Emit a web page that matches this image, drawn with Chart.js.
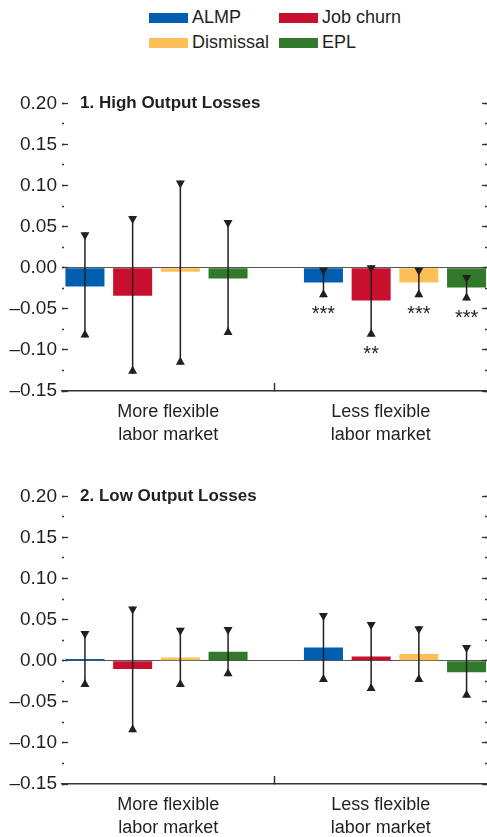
<!DOCTYPE html>
<html>
<head>
<meta charset="utf-8">
<script src="https://cdn.jsdelivr.net/npm/chart.js@4.4.1/dist/chart.umd.min.js"></script>
<style>
  html, body { margin: 0; padding: 0; background: #fff; width: 487px; height: 837px; overflow: hidden; }
  body { font-family: 'Liberation Sans', Arial, sans-serif; color: #231f20; position: relative; }
  .legend { position: absolute; left: 149px; top: 5px; display: grid; grid-template-columns: 130px auto; }
  .item { display: flex; align-items: center; height: 25px; font-size: 18px; line-height: 25px; white-space: nowrap; }
  .sw { width: 39px; height: 10px; margin-right: 4px; flex: none; }
  .panel { position: absolute; left: 0; width: 487px; height: 370px; }
</style>
</head>
<body>
<div class="legend" id="legend"></div>
<div class="panel" style="top:80px"><canvas id="c1" width="487" height="370"></canvas></div>
<div class="panel" style="top:473px"><canvas id="c2" width="487" height="370"></canvas></div>
<script>
// ---------- DATA ----------
const categories = [['More flexible', 'labor market'], ['Less flexible', 'labor market']];
const seriesNames = ['ALMP', 'Job churn', 'Dismissal', 'EPL'];
const seriesColors = ['#005EB0', '#C8102E', '#FDBF58', '#33792C'];
const yTickMin = -0.15, yTickMax = 0.20, yTickStep = 0.05, yMinorStep = 0.025;

const panel1Title = '1. High Output Losses';
const p1ALMP      = [-0.023, -0.018];
const p1JobChurn  = [-0.034, -0.040];
const p1Dismissal = [-0.005, -0.018];
const p1EPL       = [-0.013, -0.024];
const p1ALMPHi      = [0.043, 0.000],  p1ALMPLo      = [-0.085, -0.036];
const p1JobChurnHi  = [0.063, 0.003],  p1JobChurnLo  = [-0.129, -0.084];
const p1DismissalHi = [0.106, 0.000],  p1DismissalLo = [-0.118, -0.036];
const p1EPLHi       = [0.058, -0.009], p1EPLLo       = [-0.082, -0.040];
const p1ALMPStars = ['', '***'], p1JobChurnStars = ['', '**'], p1DismissalStars = ['', '***'], p1EPLStars = ['', '***'];

const panel2Title = '2. Low Output Losses';
const p2ALMP      = [0.002, 0.016];
const p2JobChurn  = [-0.010, 0.005];
const p2Dismissal = [0.004, 0.008];
const p2EPL       = [0.011, -0.014];
const p2ALMPHi      = [0.036, 0.058], p2ALMPLo      = [-0.032, -0.026];
const p2JobChurnHi  = [0.066, 0.047], p2JobChurnLo  = [-0.087, -0.037];
const p2DismissalHi = [0.040, 0.042], p2DismissalLo = [-0.032, -0.026];
const p2EPLHi       = [0.041, 0.019], p2EPLLo       = [-0.019, -0.045];
const p2Stars = ['', ''];

// ---------- STYLE ----------
const FONT = "'Liberation Sans', Arial, sans-serif";
const INK = '#231f20';
Chart.defaults.font.family = FONT;
Chart.defaults.color = INK;

// legend (HTML, real text)
const lg = document.getElementById('legend');
seriesNames.forEach((name, s) => {
  const it = document.createElement('div'); it.className = 'item';
  const sw = document.createElement('span'); sw.className = 'sw'; sw.style.background = seriesColors[s];
  const tx = document.createElement('span'); tx.textContent = name;
  it.appendChild(sw); it.appendChild(tx); lg.appendChild(it);
});

function fmtTick(v) {
  const r = Math.round(v * 100) / 100;
  return r < 0 ? '\u2013' + (-r).toFixed(2) : r.toFixed(2);
}

const errorBars = {
  id: 'errorBars',
  afterDatasetsDraw(chart) {
    const ctx = chart.ctx, ys = chart.scales.y;
    chart.data.datasets.forEach((ds, d) => {
      const meta = chart.getDatasetMeta(d);
      meta.data.forEach((el, i) => {
        const x = el.x;
        const yH = ys.getPixelForValue(ds.errHi[i]);
        const yL = ys.getPixelForValue(ds.errLo[i]);
        ctx.save();
        ctx.strokeStyle = INK; ctx.fillStyle = INK; ctx.lineWidth = 1.5;
        ctx.beginPath(); ctx.moveTo(x, yH); ctx.lineTo(x, yL); ctx.stroke();
        ctx.beginPath(); ctx.moveTo(x - 4.5, yH); ctx.lineTo(x + 4.5, yH); ctx.lineTo(x, yH + 8); ctx.closePath(); ctx.fill();
        ctx.beginPath(); ctx.moveTo(x - 4.5, yL); ctx.lineTo(x + 4.5, yL); ctx.lineTo(x, yL - 8); ctx.closePath(); ctx.fill();
        if (ds.stars && ds.stars[i]) {
          ctx.font = '20px ' + FONT; ctx.textAlign = 'center'; ctx.textBaseline = 'alphabetic';
          ctx.fillText(ds.stars[i], x, yL + 23);
        }
        ctx.restore();
      });
    });
  }
};

const panelTitle = {
  id: 'panelTitle',
  afterDraw(chart, args, opts) {
    const ctx = chart.ctx;
    ctx.save();
    ctx.font = 'bold 17px ' + FONT; ctx.fillStyle = INK;
    ctx.textAlign = 'left'; ctx.textBaseline = 'middle';
    ctx.fillText(opts.text, chart.chartArea.left + 18, chart.scales.y.getPixelForValue(yTickMax));
    ctx.restore();
  }
};

function yAxis(position, weight, step, tickLen, labels) {
  return {
    type: 'linear', position, weight, min: yTickMin, max: yTickMax,
    ticks: labels ? { stepSize: step, padding: 11, callback: fmtTick, font: { size: 19 }, color: INK }
                  : { stepSize: step, display: false },
    grid: {
      drawOnChartArea: labels,
      color: c => (labels && c.tick && Math.abs(c.tick.value) < 1e-9) ? '#555' : 'rgba(0,0,0,0)',
      lineWidth: 1,
      drawTicks: true, tickLength: tickLen, tickColor: '#333', tickWidth: 1.3
    },
    border: { display: false },
    afterFit: a => { a.width = labels ? 62 : 0; }
  };
}

function makeChart(id, title, vals, his, los, stars) {
  const datasets = seriesNames.map((name, s) => ({
    label: name,
    data: vals[s].map((v, i) => ({ x: i, y: v })),
    backgroundColor: seriesColors[s],
    xAxisID: 'xb', yAxisID: 'y',
    categoryPercentage: 0.8, barPercentage: 0.818,
    errHi: his[s], errLo: los[s], stars: stars[s]
  }));
  return new Chart(document.getElementById(id), {
    type: 'bar',
    data: { labels: categories, datasets },
    options: {
      responsive: false, animation: false, events: [],
      layout: { padding: { top: 23.3, left: 0, right: 0, bottom: 0 } },
      plugins: { legend: { display: false }, tooltip: { enabled: false }, panelTitle: { text: title } },
      scales: {
        x: {
          type: 'category', position: 'bottom', offset: true,
          grid: { offset: true, drawOnChartArea: false, drawTicks: true, tickLength: -8, tickWidth: 1.5,
                  tickColor: c => c.index === 1 ? '#333' : 'rgba(0,0,0,0)' },
          border: { display: true, color: '#333', width: 1.5 },
          ticks: { padding: 17, color: INK, font: { size: 18, lineHeight: 1.3 }, maxRotation: 0, autoSkip: false },
          afterFit: a => { a.height = 59; }
        },
        xb: {
          type: 'linear', display: false, offset: false, grid: { offset: false },
          min: -0.3962, max: 1.3857,
          afterBuildTicks: a => { a.ticks = categories.map((c, i) => ({ value: i })); }
        },
        y: yAxis('left', 1, yTickStep, -6, true),
        yMinorL: yAxis('left', 0, yMinorStep, -2, false),
        yR: yAxis('right', 0, yTickStep, -5, false),
        yMinorR: yAxis('right', 1, yMinorStep, -2, false)
      }
    },
    plugins: [errorBars, panelTitle]
  });
}

makeChart('c1', panel1Title,
  [p1ALMP, p1JobChurn, p1Dismissal, p1EPL],
  [p1ALMPHi, p1JobChurnHi, p1DismissalHi, p1EPLHi],
  [p1ALMPLo, p1JobChurnLo, p1DismissalLo, p1EPLLo],
  [p1ALMPStars, p1JobChurnStars, p1DismissalStars, p1EPLStars]);

makeChart('c2', panel2Title,
  [p2ALMP, p2JobChurn, p2Dismissal, p2EPL],
  [p2ALMPHi, p2JobChurnHi, p2DismissalHi, p2EPLHi],
  [p2ALMPLo, p2JobChurnLo, p2DismissalLo, p2EPLLo],
  [p2Stars, p2Stars, p2Stars, p2Stars]);
</script>
</body>
</html>
